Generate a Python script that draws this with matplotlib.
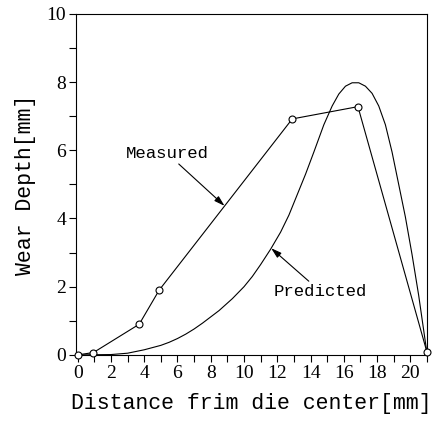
import matplotlib.pyplot as plt
from matplotlib.ticker import MultipleLocator

# measured wear depth
measured_x = [0, 0.95, 3.7, 4.9, 12.9, 16.85, 21.0]
measured_y = [0, 0.07, 0.9, 1.9, 6.92, 7.28, 0.08]

# predicted wear depth
predicted_x = [0, 2, 3, 4, 5, 5.5, 6, 6.5, 7, 7.5, 8.5, 9.3, 10, 10.5, 11, 11.6, 12.2,
               12.7, 13.2, 13.7, 14.2, 14.8, 15.3, 15.7, 16.1, 16.5, 16.9, 17.3, 17.7,
               18.1, 18.5, 18.9, 19.3, 19.7, 20.1, 20.5, 21]
predicted_y = [0, 0.01, 0.05, 0.15, 0.28, 0.37, 0.48, 0.61, 0.76, 0.93, 1.3, 1.65, 2.0,
               2.3, 2.65, 3.1, 3.6, 4.1, 4.7, 5.3, 5.95, 6.75, 7.3, 7.65, 7.88, 7.98,
               7.98, 7.88, 7.67, 7.3, 6.75, 5.95, 5.0, 4.05, 2.95, 1.75, 0.05]

mono = "Liberation Mono"
serif = "Liberation Serif"

fig = plt.figure(figsize=(4.42, 4.21), dpi=100)
ax = fig.add_axes([0.172, 0.157, 0.794, 0.81])

ax.plot(measured_x, measured_y, color="black", lw=0.8, marker="o", ms=5,
        mfc="white", mec="black", mew=0.8, clip_on=False, zorder=3)
ax.plot(predicted_x, predicted_y, color="black", lw=0.8, clip_on=False)

ax.set_xlim(-0.1, 21)
ax.set_ylim(0, 10)
ax.xaxis.set_major_locator(MultipleLocator(2))
ax.xaxis.set_minor_locator(MultipleLocator(1))
ax.yaxis.set_major_locator(MultipleLocator(2))
ax.yaxis.set_minor_locator(MultipleLocator(1))
ax.tick_params(which="both", direction="out", length=5, width=0.8, top=False, right=False)
ax.tick_params(labelsize=14, pad=2)
for lab in ax.get_xticklabels() + ax.get_yticklabels():
    lab.set_fontfamily(serif)
for s in ax.spines.values():
    s.set_linewidth(0.8)

ax.set_xlabel("Distance frim die center[mm]", fontfamily=mono, fontsize=15.5, labelpad=8)
ax.set_ylabel("Wear Depth[mm]", fontfamily=mono, fontsize=15.5, labelpad=8)

arrow = dict(arrowstyle="-|>,head_length=0.5,head_width=0.15", color="black", lw=0.8,
             shrinkA=0, shrinkB=0)
ax.annotate("Measured", xy=(8.83, 4.37), xytext=(5.4, 5.9), fontfamily=mono,
            fontsize=12.5, ha="center", va="center", arrowprops=arrow)
ax.annotate("Predicted", xy=(11.63, 3.13), xytext=(14.6, 1.86), fontfamily=mono,
            fontsize=12.5, ha="center", va="center", arrowprops=arrow)

fig.savefig("out.png", dpi=100)
